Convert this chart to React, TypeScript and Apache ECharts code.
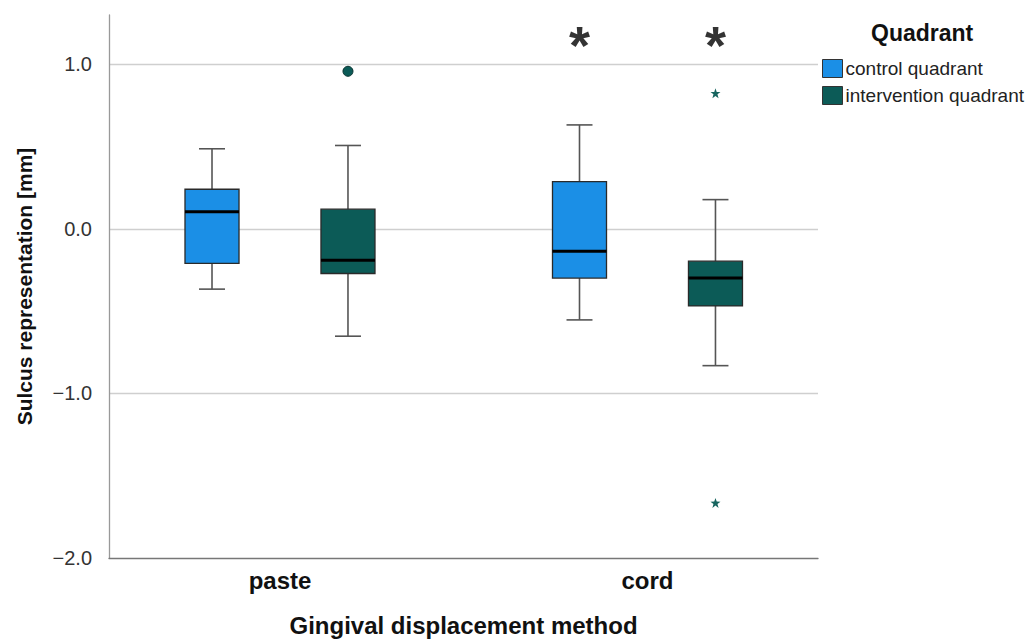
import React, { useEffect, useRef } from "react";
import * as echarts from "echarts";

const categories = ["paste", "cord"];
const seriesNames = ["control quadrant", "intervention quadrant"];
const seriesColors = ["#1b8fe6", "#0c5b57"];
// [min, q1, median, q3, max] per category
const controlStats = [
  [-0.366, -0.209, 0.104, 0.241, 0.487],
  [-0.553, -0.299, -0.136, 0.287, 0.632],
];
const interventionStats = [
  [-0.652, -0.271, -0.19, 0.12, 0.507],
  [-0.831, -0.468, -0.299, -0.196, 0.178],
];
// [categoryIndex, value]
const interventionOutliers = [[0, 0.958]];
const interventionExtremes = [
  [1, 0.825],
  [1, -1.665],
];
const significantCategories = [1];
const significanceLevel = 1.165;
const yTicks = [-2, -1, 0, 1];

const FONT = "'Liberation Sans', Arial, Helvetica, sans-serif";
const GROUP_OFFSET = 0.185;
const BOX_WIDTH = 0.147;
const CAP_WIDTH = 0.0707;

const starPath =
  "path://M10 0 L12.35 6.76 L19.51 6.91 L13.8 11.24 L15.88 18.09 L10 14 L4.12 18.09 L6.2 11.24 L0.49 6.91 L7.65 6.76 Z";

function posOf(catIdx: number, seriesIdx: number) {
  return catIdx + 1 + (seriesIdx === 0 ? -GROUP_OFFSET : GROUP_OFFSET);
}

function boxRender(color: string) {
  return (params: any, api: any) => {
    const x = api.value(0);
    const pMin = api.coord([x, api.value(1)]);
    const pQ1 = api.coord([x, api.value(2)]);
    const pMed = api.coord([x, api.value(3)]);
    const pQ3 = api.coord([x, api.value(4)]);
    const pMax = api.coord([x, api.value(5)]);
    const bw = api.size([BOX_WIDTH, 0])[0];
    const cw = api.size([CAP_WIDTH, 0])[0];
    const cx = pMed[0];
    const whisker = { stroke: "#555", lineWidth: 1.6 };
    return {
      type: "group",
      children: [
        { type: "line", shape: { x1: cx, y1: pQ3[1], x2: cx, y2: pMax[1] }, style: whisker },
        { type: "line", shape: { x1: cx, y1: pQ1[1], x2: cx, y2: pMin[1] }, style: whisker },
        { type: "line", shape: { x1: cx - cw / 2, y1: pMax[1], x2: cx + cw / 2, y2: pMax[1] }, style: whisker },
        { type: "line", shape: { x1: cx - cw / 2, y1: pMin[1], x2: cx + cw / 2, y2: pMin[1] }, style: whisker },
        {
          type: "rect",
          shape: { x: cx - bw / 2, y: pQ3[1], width: bw, height: pQ1[1] - pQ3[1] },
          style: { fill: color, stroke: "#2a2a2a", lineWidth: 1.3 },
        },
        {
          type: "line",
          shape: { x1: cx - bw / 2, y1: pMed[1], x2: cx + bw / 2, y2: pMed[1] },
          style: { stroke: "#000", lineWidth: 3 },
        },
      ],
    };
  };
}

export default function App() {
  const ref = useRef<HTMLDivElement>(null);
  useEffect(() => {
    if (!ref.current) return;
    const chart = echarts.init(ref.current, null, { renderer: "svg" });
    const statsList = [controlStats, interventionStats];
    const boxSeries = statsList.map((stats, si) => ({
      type: "custom",
      name: seriesNames[si],
      renderItem: boxRender(seriesColors[si]),
      itemStyle: { color: seriesColors[si] },
      encode: { x: 0, y: [1, 2, 3, 4, 5] },
      data: stats.map((s, ci) => [posOf(ci, si), ...s]),
      z: 3,
    }));
    chart.setOption({
      animation: false,
      textStyle: { fontFamily: FONT },
      title: {
        text: "Quadrant",
        left: 871,
        top: 21,
        padding: 0,
        textStyle: { fontFamily: FONT, fontSize: 23, fontWeight: "bold", color: "#111" },
      },
      legend: {
        orient: "vertical",
        left: 822,
        top: 59,
        padding: 0,
        itemWidth: 20,
        itemHeight: 18,
        itemGap: 8,
        selectedMode: false,
        textStyle: { fontFamily: FONT, fontSize: 19, color: "#222", padding: [0, 0, 0, -2] },
        data: seriesNames.map((n, i) => ({
          name: n,
          icon: "rect",
          itemStyle: { color: seriesColors[i], borderColor: "#333", borderWidth: 1 },
        })),
      },
      grid: { left: 109, right: 217, top: 15, bottom: 81, containLabel: false },
      xAxis: {
        type: "value",
        min: 0.5347,
        max: 2.464,
        name: "Gingival displacement method",
        nameLocation: "middle",
        nameGap: 55,
        nameTextStyle: { fontFamily: FONT, fontSize: 24, fontWeight: "bold", color: "#111" },
        axisLine: { show: true, onZero: false, lineStyle: { color: "#777", width: 1.3 } },
        axisTick: { show: false },
        splitLine: { show: false },
        axisLabel: {
          customValues: categories.map((_, i) => i + 1),
          formatter: (v: number) => categories[Math.round(v) - 1] ?? "",
          fontFamily: FONT,
          fontSize: 24,
          fontWeight: "bold",
          color: "#111",
          margin: 10,
        },
      },
      yAxis: {
        type: "value",
        min: -2,
        max: 1.3,
        interval: 1,
        name: "Sulcus representation [mm]",
        nameLocation: "middle",
        nameGap: 74,
        nameTextStyle: { fontFamily: FONT, fontSize: 21, fontWeight: "bold", color: "#111" },
        axisLine: { show: true, lineStyle: { color: "#999", width: 1.3 } },
        axisTick: { show: false },
        splitLine: { show: true, showMaxLine: false, showMinLine: false, lineStyle: { color: "#cfcfcf", width: 1.3 } },
        axisLabel: {
          customValues: yTicks,
          formatter: (v: number) => (v < 0 ? "\u2212" : "") + Math.abs(v).toFixed(1),
          fontFamily: FONT,
          fontSize: 20,
          color: "#333",
          margin: 17,
        },
      },
      series: [
        ...boxSeries,
        {
          type: "scatter",
          name: seriesNames[1] + " outliers",
          symbol: "circle",
          symbolSize: 10,
          itemStyle: { color: "#0c5b57", borderColor: "#07302d", borderWidth: 1, opacity: 1 },
          data: interventionOutliers.map(([ci, v]) => [posOf(ci, 1), v]),
          z: 4,
        },
        {
          type: "scatter",
          name: seriesNames[1] + " extremes",
          symbol: starPath,
          symbolSize: 10,
          itemStyle: { color: "#17655f", opacity: 1 },
          data: interventionExtremes.map(([ci, v]) => [posOf(ci, 1), v]),
          z: 4,
        },
        {
          type: "scatter",
          name: "significance",
          symbolSize: 0,
          itemStyle: { color: "transparent" },
          label: {
            show: true,
            position: "inside",
            formatter: "*",
            fontFamily: FONT,
            fontSize: 54,
            fontWeight: "bold",
            color: "#000",
            offset: [0, 8],
          },
          data: significantCategories.flatMap((ci) => [
            [posOf(ci, 0), significanceLevel],
            [posOf(ci, 1), significanceLevel],
          ]),
          z: 5,
        },
      ],
    });
    return () => chart.dispose();
  }, []);
  return (
    <div
      ref={ref}
      style={{ position: "fixed", left: 0, top: 0, width: 1035, height: 642, background: "#fff" }}
    />
  );
}
